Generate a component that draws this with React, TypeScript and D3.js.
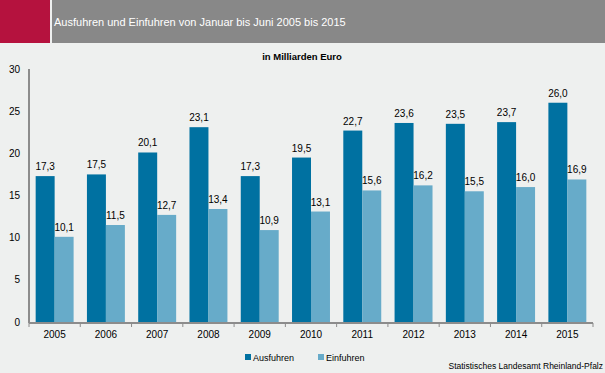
import React from 'react';
import * as d3 from 'd3';

const years = ['2005', '2006', '2007', '2008', '2009', '2010', '2011', '2012', '2013', '2014', '2015'];
const ausfuhren = [17.3, 17.5, 20.1, 23.1, 17.3, 19.5, 22.7, 23.6, 23.5, 23.7, 26.0];
const einfuhren = [10.1, 11.5, 12.7, 13.4, 10.9, 13.1, 15.6, 16.2, 15.5, 16.0, 16.9];
const yTicks = [0, 5, 10, 15, 20, 25, 30];
const seriesNames = ['Ausfuhren', 'Einfuhren'];
const colors = ['#0071a1', '#67abc9'];

const W = 605;
const H = 373;
const margin = { top: 69, right: 12, bottom: 51, left: 29 };

const fmt = (v: number) => v.toFixed(1).replace('.', ',');

const App: React.FC = () => {
  const x = d3.scaleBand<string>().domain(years).range([margin.left, W - margin.right]).paddingInner(0.26).paddingOuter(0.13);
  const sub = d3.scaleBand<string>().domain(seriesNames).range([0, x.bandwidth()]);
  const y = d3.scaleLinear().domain([0, 30]).range([H - margin.bottom, margin.top]);
  const step = x.step();
  const x0 = margin.left;
  const x1 = W - margin.right;
  const series = [ausfuhren, einfuhren];
  const font = '"Liberation Sans", Arial, sans-serif';

  return (
    <svg width={W} height={H} style={{ position: 'absolute', left: 0, top: 0, fontFamily: font }}>
      <rect x={0} y={0} width={W} height={H} fill="#eef0ef" />
      <rect x={0} y={0} width={50} height={43} fill="#b5123e" />
      <rect x={52} y={0} width={W - 52} height={43} fill="#888888" />
      <text x={54} y={26} fill="#ffffff" fontSize={11}>Ausfuhren und Einfuhren von Januar bis Juni 2005 bis 2015</text>
      <text x={302} y={60} textAnchor="middle" fontSize={9.5} fontWeight="bold" fill="#000">in Milliarden Euro</text>

      {yTicks.map(t => (
        <text key={t} x={20} y={y(t) + 3.5} textAnchor="end" fontSize={10} fill="#000">{t}</text>
      ))}

      {series.map((vals, si) =>
        vals.map((v, i) => {
          const bx = (x(years[i]) ?? 0) + (sub(seriesNames[si]) ?? 0);
          return (
            <g key={`${si}-${i}`}>
              <rect x={bx} y={y(v)} width={sub.bandwidth()} height={y(0) - y(v)} fill={colors[si]} />
              <text x={bx + sub.bandwidth() / 2} y={y(v) - 6} textAnchor="middle" fontSize={10} fill="#000">{fmt(v)}</text>
            </g>
          );
        })
      )}

      <line x1={x0} x2={x0} y1={y(30)} y2={y(0) + 1} stroke="#8c8c8c" strokeWidth={2} />
      <line x1={x0} x2={x1} y1={y(0) + 1} y2={y(0) + 1} stroke="#8c8c8c" strokeWidth={2} />
      {d3.range(years.length + 1).map(k => (
        <line key={k} x1={x0 + k * step} x2={x0 + k * step} y1={y(0) + 1} y2={y(0) + 5} stroke="#8c8c8c" strokeWidth={1} />
      ))}
      {years.map(yr => (
        <text key={yr} x={(x(yr) ?? 0) + x.bandwidth() / 2} y={y(0) + 16} textAnchor="middle" fontSize={10} fill="#000">{yr}</text>
      ))}

      {seriesNames.map((n, i) => (
        <g key={n} transform={`translate(${245 + i * 73},353)`}>
          <rect x={0} y={1} width={6} height={6} fill={colors[i]} />
          <text x={8} y={8} fontSize={9} fill="#000">{n}</text>
        </g>
      ))}
      <text x={603} y={369} textAnchor="end" fontSize={8.5} fill="#000">Statistisches Landesamt Rheinland-Pfalz</text>
    </svg>
  );
};

export default App;
